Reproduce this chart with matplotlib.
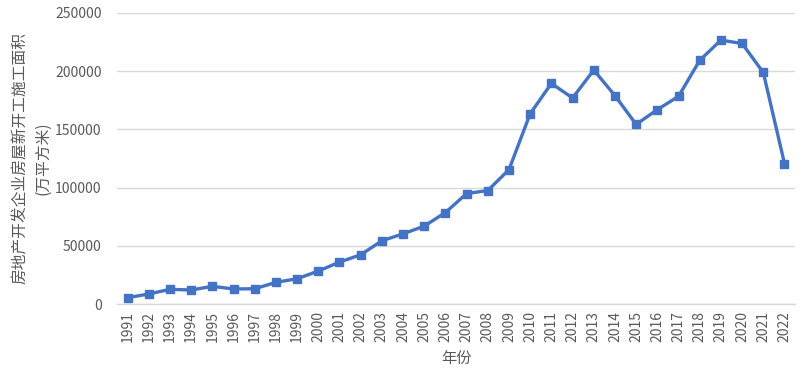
import matplotlib
matplotlib.use('Agg')
import matplotlib.pyplot as plt

plt.rcParams['font.family'] = ['Noto Sans CJK SC', 'DejaVu Sans']

# Data
years = list(range(1991, 2023))
area = [5400, 8600, 12600, 12000, 15200, 12900, 13100, 18600, 21700, 28300,
        36000, 42300, 54300, 60300, 66900, 78600, 94900, 97500, 115500, 163500,
        189500, 177000, 201000, 179000, 154300, 167000, 178400, 209300, 226700,
        223800, 198900, 120700]
y_ticks = [0, 50000, 100000, 150000, 200000, 250000]

line_color = '#4472C4'
text_color = '#595959'

fig = plt.figure(figsize=(8.08, 3.8), dpi=100)
ax = fig.add_axes([0.1448, 0.2, 0.8392, 0.7658])

x = range(len(years))
ax.plot(x, area, color=line_color, linewidth=2.4, marker='s', markersize=5.5,
        zorder=3)

ax.set_xlim(-0.5, len(years) - 0.5)
ax.set_ylim(0, 250000)
ax.set_yticks(y_ticks)
ax.set_yticklabels([str(v) for v in y_ticks])
ax.set_xticks(list(x))
ax.set_xticklabels([str(y) for y in years], rotation=90)

ax.grid(axis='y', color='#d9d9d9', linewidth=1)
ax.set_axisbelow(True)
for side in ['top', 'right', 'left']:
    ax.spines[side].set_visible(False)
ax.spines['bottom'].set_color('#d9d9d9')
ax.spines['bottom'].set_linewidth(1)

ax.tick_params(axis='y', length=0, pad=11, labelsize=10, labelcolor=text_color)
ax.tick_params(axis='x', length=0, pad=5, labelsize=10, labelcolor=text_color)

ax.set_xlabel('年份', fontsize=11, color=text_color, labelpad=6)
fig.text(0.039, 0.585, '房地产开发企业房屋新开工施工面积\n(万平方米)',
         rotation=90, ha='center', va='center', fontsize=11.3,
         color=text_color, multialignment='center', linespacing=1.4)

fig.savefig('out.png', dpi=100)
